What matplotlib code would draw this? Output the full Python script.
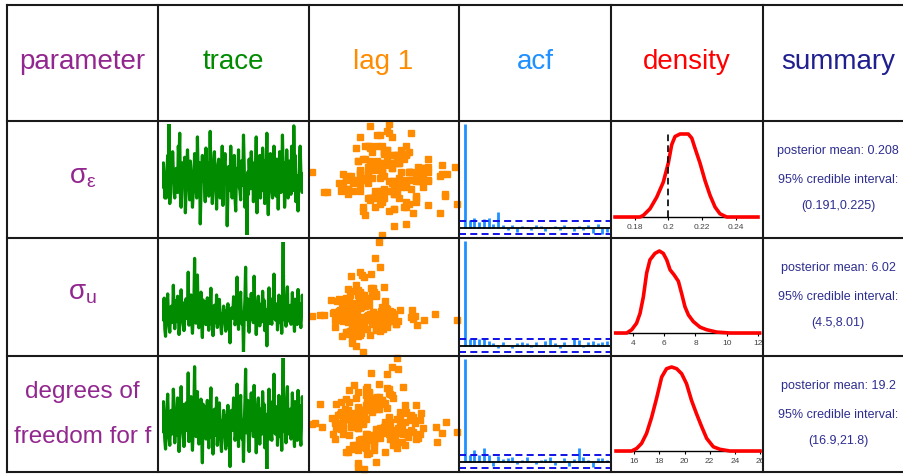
import numpy as np
import matplotlib
matplotlib.use("Agg")
import matplotlib.pyplot as plt
from matplotlib.lines import Line2D

W, H = 904, 474
plt.rcParams['font.family'] = ['Liberation Sans', 'DejaVu Sans']
plt.rcParams['mathtext.fontset'] = 'custom'
plt.rcParams['mathtext.rm'] = 'Liberation Sans'
plt.rcParams['mathtext.it'] = 'Liberation Sans'
plt.rcParams['mathtext.bf'] = 'Liberation Sans:bold'

# ---------------- data ----------------
headers = ['parameter', 'trace', 'lag 1', 'acf', 'density', 'summary']
header_colors = ['#92278F', '#008B00', '#FF8C00', '#1E90FF', '#FF0000', '#1F1F8F']
row_labels = [r'$σ_{ε}$', r'$σ_{u}$', 'degrees of\nfreedom for f']

# MCMC traces (row 1 in thousandths, row 2 in hundredths, row 3 in tenths)
trace_sigma_e = [
    204, 213, 217, 207, 198, 202, 198, 212, 221, 210, 238, 195, 206, 216, 208, 223, 212, 201, 198, 211,
    214, 207, 201, 226, 219, 233, 199, 193, 203, 217, 206, 209, 220, 190, 202, 215, 224, 211, 207, 197,
    218, 212, 204, 193, 200, 208, 222, 215, 205, 198, 231, 210, 202, 217, 184, 201, 213, 221, 207, 212,
    207, 196, 225, 214, 217, 204, 199, 209, 234, 211, 206, 195, 202, 218, 223, 207, 212, 192, 209, 216,
    219, 203, 198, 213, 205, 226, 194, 210, 217, 222, 207, 212, 183, 201, 215, 206, 202, 226, 208, 198,
    207, 217, 221, 199, 191, 211, 214, 209, 224, 204, 202, 197, 218, 212, 205, 232, 216, 193, 210, 207,
    178, 212, 200, 219, 208, 203, 223, 214, 217, 196, 207, 201, 211, 231, 190, 205, 215, 212, 221, 198,
    209, 202, 225, 213, 218, 195, 207, 210, 233, 200, 189, 206, 217, 222, 212, 202, 198, 207, 226, 215,
    204, 199, 219, 212, 192, 208, 223, 213, 201, 206, 232, 211, 217, 193, 203, 209, 224, 214, 198, 205,
    218, 212, 200, 226, 207, 202, 237, 215, 221, 196, 208, 210, 191, 204, 217, 226, 212, 206, 201, 211]
trace_sigma_u = [
    565, 632, 583, 687, 511, 471, 603, 655, 711, 589, 530, 494, 610, 641, 549, 573, 760, 618, 514, 672,
    554, 594, 698, 633, 481, 525, 580, 734, 600, 662, 544, 503, 562, 622, 684, 573, 589, 834, 534, 644,
    607, 705, 553, 488, 582, 652, 912, 600, 545, 595, 818, 568, 519, 624, 587, 721, 556, 464, 677, 612,
    668, 575, 537, 616, 689, 568, 505, 593, 636, 743, 539, 580, 475, 608, 647, 596, 547, 705, 521, 567,
    626, 680, 582, 528, 485, 599, 575, 642, 607, 545, 500, 615, 576, 655, 515, 556, 434, 589, 631, 573,
    594, 695, 669, 536, 554, 607, 806, 583, 510, 629, 650, 721, 575, 539, 603, 382, 587, 674, 862, 566,
    613, 683, 531, 494, 593, 639, 714, 568, 601, 548, 811, 619, 588, 481, 561, 659, 698, 596, 530, 652,
    583, 553, 726, 607, 676, 503, 622, 573, 417, 589, 644, 745, 543, 601, 568, 539, 684, 637, 823, 587,
    563, 607, 655, 507, 579, 704, 549, 621, 594, 488, 670, 1005, 565, 632, 595, 528, 690, 751, 557, 576,
    602, 646, 539, 588, 718, 617, 564, 499, 681, 607, 578, 538, 736, 592, 658, 553, 520, 600, 704, 626]
trace_df = [
    186, 199, 210, 192, 179, 172, 189, 204, 216, 195, 181, 175, 193, 203, 184, 189, 220, 207, 177, 196,
    183, 194, 213, 201, 170, 180, 190, 222, 195, 208, 185, 174, 188, 198, 209, 187, 192, 233, 178, 203,
    197, 214, 184, 171, 189, 205, 238, 194, 182, 191, 218, 186, 176, 200, 190, 212, 184, 161, 208, 196,
    206, 187, 180, 199, 211, 189, 173, 193, 202, 221, 181, 190, 168, 197, 204, 194, 183, 213, 175, 188,
    201, 209, 189, 177, 170, 195, 188, 203, 198, 181, 172, 199, 189, 207, 175, 184, 158, 193, 203, 187,
    194, 213, 207, 179, 183, 197, 224, 189, 174, 202, 205, 215, 186, 180, 195, 162, 190, 209, 236, 185,
    199, 211, 178, 170, 193, 203, 217, 187, 196, 182, 223, 201, 191, 169, 184, 206, 213, 194, 176, 204,
    189, 184, 218, 198, 208, 173, 200, 188, 156, 192, 203, 220, 180, 195, 185, 179, 210, 202, 232, 190,
    184, 197, 206, 175, 189, 215, 182, 201, 194, 171, 208, 245, 186, 203, 194, 177, 212, 222, 184, 189,
    196, 204, 180, 191, 217, 199, 185, 174, 210, 198, 189, 179, 219, 193, 207, 183, 175, 196, 214, 202]
trace_units = [1000.0, 100.0, 10.0]

# autocorrelations, lags 0..30
acf_lags = list(range(31))
acf_sigma_e = [1, 0.07, 0.09, 0.05, 0.08, 0.09, 0.04, 0.15, 0.03, -0.02, 0.03, -0.04, 0.02, 0.01, -0.02,
               0.03, 0.02, -0.03, 0.01, 0.02, -0.02, 0.03, 0.01, -0.03, 0.02, -0.02, 0.03, -0.05, 0.04, -0.06, -0.04]
acf_sigma_u = [1, 0.06, 0.07, 0.06, 0.07, 0.04, 0.02, -0.02, 0.03, 0.01, -0.02, 0.02, 0.03, 0.02, -0.01,
               0.03, 0.01, 0.04, 0.06, 0.02, -0.02, 0.03, 0.01, 0.06, 0.05, -0.01, 0.03, 0.04, 0.02, 0.03, 0.04]
acf_df = [1, 0.07, 0.11, 0.07, 0.13, 0.07, -0.04, 0.06, 0.03, 0.04, 0.05, -0.02, 0.02, 0.05, 0.01,
          -0.02, 0.02, 0.03, 0.05, -0.03, 0.01, 0.04, -0.04, 0.03, 0.13, 0.05, 0.02, -0.05, 0.04, 0.04, 0.02]
acf_ci = 0.062

# posterior densities
dens_x_sigma_e = [0.1681, 0.1830, 0.1850, 0.1890, 0.1930, 0.1969, 0.1999, 0.2019, 0.2039, 0.2069, 0.2118,
                  0.2139, 0.2158, 0.2188, 0.2218, 0.2248, 0.2278, 0.2307, 0.2347, 0.2534]
dens_y_sigma_e = [0, 0, 0.9, 4.6, 11.0, 19.3, 29.9, 40.0, 44.6, 46.0, 46.0, 43.7, 38.2, 29.9, 20.2, 12.0,
                  5.5, 1.8, 0, 0]
dens_x_sigma_u = [2.92, 3.62, 3.94, 4.25, 4.47, 4.68, 4.89, 5.10, 5.42, 5.70, 5.95, 6.17, 6.38, 6.63, 6.91,
                  7.12, 7.33, 7.55, 7.86, 8.29, 8.71, 9.35, 10.2, 12.08]
dens_y_sigma_u = [0, 0, 0.018, 0.054, 0.108, 0.198, 0.329, 0.401, 0.437, 0.450, 0.437, 0.401, 0.347, 0.320,
                  0.284, 0.216, 0.144, 0.099, 0.063, 0.032, 0.018, 0.005, 0, 0]
dens_x_df = [14.55, 15.79, 16.19, 16.58, 16.98, 17.38, 17.78, 18.18, 18.57, 18.97, 19.37, 19.77, 20.16,
             20.56, 20.96, 21.36, 21.76, 22.29, 22.82, 23.61, 26.0]
dens_y_df = [0, 0, 0.009, 0.027, 0.063, 0.120, 0.189, 0.264, 0.294, 0.300, 0.294, 0.276, 0.240, 0.180,
             0.132, 0.087, 0.045, 0.015, 0.006, 0, 0]
dens_ticks = [[0.18, 0.2, 0.22, 0.24], [4, 6, 8, 10, 12], [16, 18, 20, 22, 24, 26]]
dens_ticklabels = [['0.18', '0.2', '0.22', '0.24'], ['4', '6', '8', '10', '12'],
                   ['16', '18', '20', '22', '24', '26']]
true_value = [0.2, None, None]

post_means = ['0.208', '6.02', '19.2']
ci_low = ['0.191', '4.5', '16.9']
ci_high = ['0.225', '8.01', '21.8']

traces = [trace_sigma_e, trace_sigma_u, trace_df]
acfs = [acf_sigma_e, acf_sigma_u, acf_df]
dens_xs = [dens_x_sigma_e, dens_x_sigma_u, dens_x_df]
dens_ys = [dens_y_sigma_e, dens_y_sigma_u, dens_y_df]

# ---------------- layout (pixels) ----------------
col_x = [7, 158, 309, 459, 611, 763]
col_centers = [82.5, 233, 383, 535, 687, 838]
row_y = [5, 121, 238, 356, 472]
trace_y = [(124, 235), (242, 352), (358, 469)]
dens_y_px = [(134, 217), (251, 333), (367, 451)]
dens_xlim = [(0.1657, 0.2564), (2.62, 12.30), (14.15, 26.24)]

fig = plt.figure(figsize=(W / 100, H / 100), dpi=100)


def add_ax(x0, y0, x1, y1):
    return fig.add_axes([x0 / W, 1 - y1 / H, (x1 - x0) / W, (y1 - y0) / H])


def ftext(x, y, s, **kw):
    fig.text(x / W, 1 - y / H, s, **kw)


# headers
for c, (h, col) in enumerate(zip(headers, header_colors)):
    ftext(col_centers[c], 69, h, color=col, fontsize=20, ha='center', va='baseline')

label_color = '#92278F'
for r in range(3):
    top = row_y[r + 1]
    lines = row_labels[r].split('\n')
    if len(lines) == 1:
        ftext(col_centers[0], top + 62, lines[0], color=label_color, fontsize=20,
              ha='center', va='baseline')
    else:
        ftext(col_centers[0], top + 42, lines[0], color=label_color, fontsize=17.5,
              ha='center', va='baseline')
        ftext(col_centers[0], top + 87, lines[1], color=label_color, fontsize=17.5,
              ha='center', va='baseline')

    data = np.array(traces[r]) / trace_units[r]
    ty0, ty1 = trace_y[r]

    # trace
    ax = add_ax(162, ty0, 303, ty1)
    ax.plot(np.arange(len(data)), data, color='#008B00', lw=2.3)
    ax.set_xlim(0, len(data) - 1)
    ax.set_ylim(data.min(), data.max())
    ax.axis('off')

    # lag 1
    ax = add_ax(312, ty0, 457, ty1)
    ax.plot(data[:-1], data[1:], 's', ms=4.6, mfc='#FF8C00', mec='#FF8C00', mew=1.0,
            clip_on=False)
    ax.set_xlim(data.min(), data.max())
    ax.set_ylim(data.min(), data.max())
    ax.axis('off')

    # acf
    ax = add_ax(col_x[3], row_y[r + 1], col_x[4], row_y[r + 2])
    ax.vlines(acf_lags, 0, acfs[r], color='#1E90FF', lw=2.0)
    ax.axhline(0, color='black', lw=1.3)
    for s in (1, -1):
        ax.axhline(s * acf_ci, color='#1010E8', lw=1.4, dashes=(3.6, 2.2))
    ax.set_xlim(-1.27, 30.85)
    ax.set_ylim(-0.1, 1.03)
    ax.axis('off')

    # density
    dy0, dy1 = dens_y_px[r]
    ax = add_ax(col_x[4], dy0, col_x[5], dy1)
    dx = dens_xs[r]
    dyv = dens_ys[r]
    ax.plot([dx[0], dx[-1]], [0, 0], color='black', lw=1.0, clip_on=False)
    ax.plot(dx, dyv, color='#FF0000', lw=2.6, clip_on=False, solid_joinstyle='round')
    if true_value[r] is not None:
        ax.axvline(true_value[r], color='black', lw=1.2, dashes=(4, 2.5))
    ax.set_xlim(*dens_xlim[r])
    ax.set_ylim(0, max(dyv))
    for sp in ax.spines.values():
        sp.set_visible(False)
    ax.set_yticks([])
    ax.set_xticks(dens_ticks[r])
    ax.set_xticklabels(dens_ticklabels[r])
    ax.tick_params(axis='x', direction='out', length=2.5, width=0.8, pad=2.2,
                   labelsize=6, labelcolor='#444444', color='black')
    ax.patch.set_alpha(0)

    # summary
    top = row_y[r + 1]
    sc = '#2E2E90'
    ftext(col_centers[5], top + 33, 'posterior mean: ' + post_means[r], color=sc,
          fontsize=9, ha='center', va='baseline')
    ftext(col_centers[5], top + 62, '95% credible interval:', color=sc,
          fontsize=9, ha='center', va='baseline')
    ftext(col_centers[5], top + 88, '(' + ci_low[r] + ',' + ci_high[r] + ')', color=sc,
          fontsize=9, ha='center', va='baseline')

# table grid lines
lc = '#1a1a1a'
for y in row_y:
    fig.add_artist(Line2D([col_x[0] / W, 1.0], [1 - y / H, 1 - y / H],
                          transform=fig.transFigure, color=lc, lw=1.5, zorder=10))
for x in col_x:
    fig.add_artist(Line2D([x / W, x / W], [1 - row_y[0] / H, 1 - row_y[-1] / H],
                          transform=fig.transFigure, color=lc, lw=1.5, zorder=10))

fig.savefig('out.png', dpi=100, facecolor='white')
